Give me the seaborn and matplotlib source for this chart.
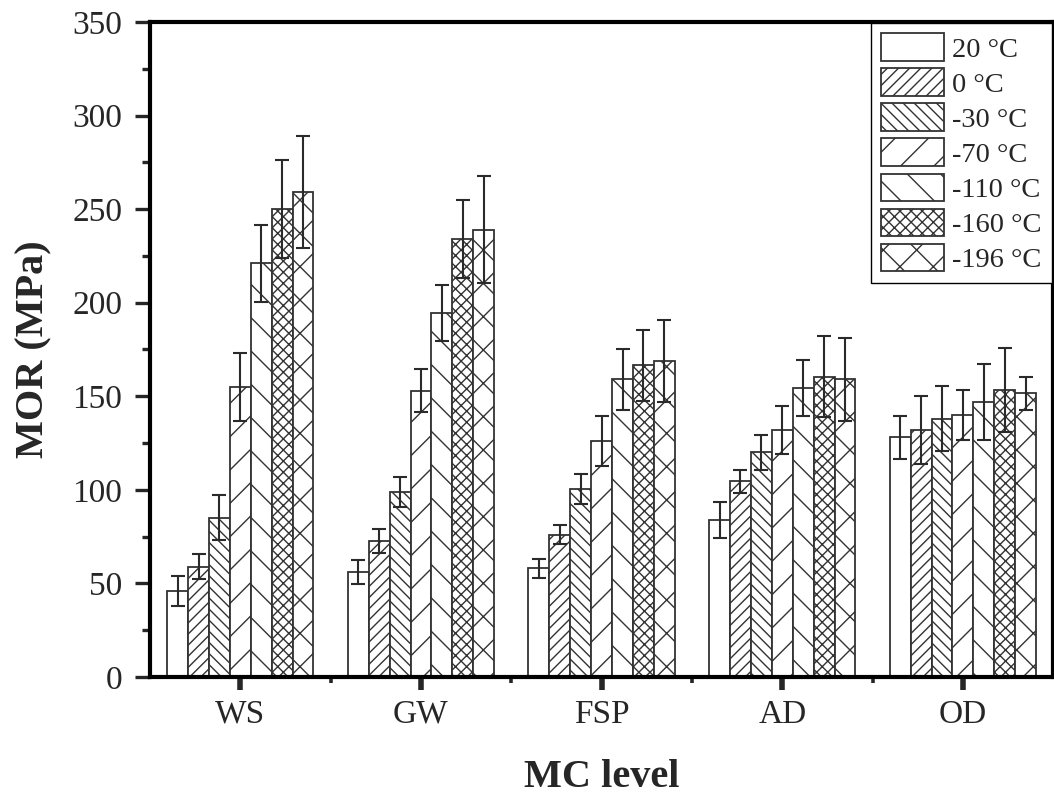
import numpy as np
import pandas as pd
import matplotlib
matplotlib.use("Agg")
import matplotlib.pyplot as plt
import seaborn as sns
from matplotlib.patches import Patch
from matplotlib.ticker import MultipleLocator, FixedLocator

# ---- data ----
mc_levels = ["WS", "GW", "FSP", "AD", "OD"]
temps = ["20 °C", "0 °C", "-30 °C", "-70 °C", "-110 °C", "-160 °C", "-196 °C"]

mor_20 = [46, 56, 58, 84, 128]
mor_0 = [59, 72.5, 76, 104.5, 132]
mor_m30 = [85, 99, 100.5, 120, 138]
mor_m70 = [155, 153, 126, 132, 140]
mor_m110 = [221, 194.5, 159, 154.5, 147]
mor_m160 = [250, 234, 166.5, 160.5, 153.5]
mor_m196 = [259, 239, 169, 159, 151.5]

err_20 = [8, 6.3, 5, 9.5, 11.5]
err_0 = [6.5, 6.5, 5, 6, 18]
err_m30 = [12, 8, 8, 9.5, 17.5]
err_m70 = [18, 11.5, 13.5, 13, 13.5]
err_m110 = [20.5, 15, 16.5, 15, 20.5]
err_m160 = [26, 21, 19, 21.5, 22.5]
err_m196 = [30, 28.5, 22, 22, 9]

hatches = ["", "///", "\\\\\\", "/", "\\", "xxx", "x"]

means = [mor_20, mor_0, mor_m30, mor_m70, mor_m110, mor_m160, mor_m196]
errs = [err_20, err_0, err_m30, err_m70, err_m110, err_m160, err_m196]

rows = []
for t, mvals, evals in zip(temps, means, errs):
    for mc, m, e in zip(mc_levels, mvals, evals):
        rows.append({"MC": mc, "Temp": t, "MOR": m, "err": e})
df = pd.DataFrame(rows)

# ---- style ----
sns.set_style("ticks")
plt.rcParams["font.family"] = ["Liberation Serif", "DejaVu Serif"]
plt.rcParams["hatch.linewidth"] = 1.0
plt.rcParams["hatch.color"] = "#333333"

fig = plt.figure(figsize=(10.54, 7.96), dpi=100)
ax = fig.add_axes([0.1423, 0.1495, 0.857, 0.8229])

edge = "#333333"
sns.barplot(data=df, x="MC", y="MOR", hue="Temp", order=mc_levels, hue_order=temps,
            palette=["white"] * len(temps), saturation=1, errorbar=None,
            width=0.81, gap=0, edgecolor=edge, linewidth=1.3, legend=False, ax=ax)

bar_conts = list(ax.containers)
for i, cont in enumerate(bar_conts):
    for j, p in enumerate(cont.patches):
        p.set_hatch(hatches[i])
        p.set_edgecolor(edge)
        x = p.get_x() + p.get_width() / 2
        ax.errorbar(x, p.get_height(), yerr=errs[i][j], fmt="none",
                    ecolor="#2a2a2a", elinewidth=1.5, capsize=5, capthick=1.5, zorder=5)

ax.set_xlim(-0.5, 4.5)
ax.set_ylim(0, 350)
ax.yaxis.set_major_locator(MultipleLocator(50))
ax.yaxis.set_minor_locator(MultipleLocator(25))
ax.xaxis.set_minor_locator(FixedLocator([0.5, 1.5, 2.5, 3.5]))

for s in ax.spines.values():
    s.set_visible(True)
    s.set_linewidth(3.0)
    s.set_color("black")

ax.tick_params(axis="y", which="major", direction="out", length=11, width=2.4,
               labelsize=24, pad=9)
ax.tick_params(axis="y", which="minor", direction="out", length=5.5, width=2.4)
ax.tick_params(axis="x", which="major", direction="out", length=9, width=4,
               labelsize=24, pad=7)
ax.tick_params(axis="x", which="minor", direction="out", length=4, width=2.6)

ax.set_xlabel("MC level", fontsize=29, fontweight="bold", labelpad=21)
ax.set_ylabel("MOR (MPa)", fontsize=29, fontweight="bold", labelpad=14)

handles = [Patch(facecolor="white", edgecolor=edge, hatch=h, linewidth=1.3, label=t)
           for h, t in zip(hatches, temps)]
leg = ax.legend(handles=handles, loc="upper right", bbox_to_anchor=(1.0, 1.0),
                borderaxespad=0.05, fontsize=20.5, frameon=True, fancybox=False,
                edgecolor="black", framealpha=1, handlelength=2.2, handleheight=1.1,
                handletextpad=0.3, labelspacing=0.2, borderpad=0.35)
leg.get_frame().set_linewidth(1.0)

fig.savefig("out.png", dpi=100)
